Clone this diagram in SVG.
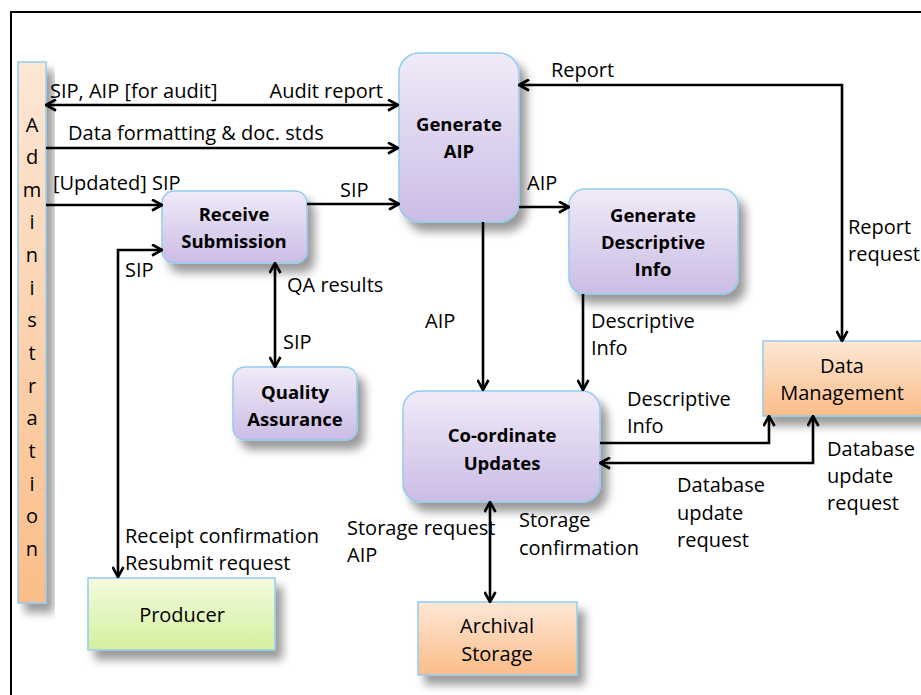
<svg xmlns="http://www.w3.org/2000/svg" width="921" height="695" viewBox="0 0 921 695">
<defs>
<linearGradient id="gPurple" x1="0" y1="0" x2="0" y2="1">
<stop offset="0" stop-color="#F0EBF8"/><stop offset="1" stop-color="#CBBCE5"/>
</linearGradient>
<linearGradient id="gOrange" x1="0" y1="0" x2="0" y2="1">
<stop offset="0" stop-color="#FDE7D6"/><stop offset="1" stop-color="#FBBD88"/>
</linearGradient>
<linearGradient id="gGreen" x1="0" y1="0" x2="0" y2="1">
<stop offset="0" stop-color="#F3FBDF"/><stop offset="1" stop-color="#D3F09E"/>
</linearGradient>
<filter id="shadow" x="-20%" y="-20%" width="150%" height="160%">
<feGaussianBlur in="SourceAlpha" stdDeviation="5"/>
<feOffset dx="7" dy="9" result="o"/>
<feComponentTransfer><feFuncA type="linear" slope="0.4"/></feComponentTransfer>
<feMerge><feMergeNode/><feMergeNode in="SourceGraphic"/></feMerge>
</filter>
<marker id="arr" viewBox="0 0 13 13" refX="12" refY="6.5" markerWidth="13" markerHeight="13" markerUnits="userSpaceOnUse" orient="auto-start-reverse">
<path d="M2,1 L12,6.5 L2,12" fill="none" stroke="#000" stroke-width="2.6"/>
</marker>
</defs>
<style>
.lbl{font-family:"Open Sans","Noto Sans",sans-serif;font-size:20px;fill:#000}
.b{font-weight:bold;font-size:18.5px}
.mid{text-anchor:middle}
.conn{stroke:#000;stroke-width:2.6;fill:none}
.np{fill:url(#gPurple);stroke:#92CCF0;stroke-width:1.5}
.no{fill:url(#gOrange);stroke:#92CCF0;stroke-width:1.5}
.ng{fill:url(#gGreen);stroke:#92CCF0;stroke-width:1.5}
</style>
<rect x="11" y="12" width="920" height="700" fill="#fff" stroke="#000" stroke-width="2"/>

<g id="administration" filter="url(#shadow)">
<rect x="18" y="62" width="28" height="541" class="no"/>
</g>
<g id="administration-text" class="lbl mid">
<text x="32" y="132">A</text><text x="32" y="164">d</text><text x="32" y="197">m</text><text x="32" y="229">i</text>
<text x="32" y="262">n</text><text x="32" y="295">i</text><text x="32" y="327">s</text><text x="32" y="360">t</text>
<text x="32" y="393">r</text><text x="32" y="425">a</text><text x="32" y="458">t</text><text x="32" y="491">i</text>
<text x="32" y="523">o</text><text x="32" y="556">n</text>
</g>

<g id="generate-aip">
<rect x="399" y="53" width="120" height="169" rx="20" class="np" filter="url(#shadow)"/>
<text x="459" y="131" class="lbl b mid">Generate</text>
<text x="459" y="158" class="lbl b mid">AIP</text>
</g>
<g id="generate-descriptive-info">
<rect x="569" y="189" width="169" height="105" rx="16" class="np" filter="url(#shadow)"/>
<text x="653" y="222" class="lbl b mid">Generate</text>
<text x="653" y="249" class="lbl b mid">Descriptive</text>
<text x="653" y="276" class="lbl b mid">Info</text>
</g>
<g id="receive-submission">
<rect x="162" y="191" width="145" height="72" rx="12" class="np" filter="url(#shadow)"/>
<text x="234" y="221" class="lbl b mid">Receive</text>
<text x="234" y="248" class="lbl b mid">Submission</text>
</g>
<g id="quality-assurance">
<rect x="233" y="367" width="124" height="73" rx="12" class="np" filter="url(#shadow)"/>
<text x="295" y="399" class="lbl b mid">Quality</text>
<text x="295" y="426" class="lbl b mid">Assurance</text>
</g>
<g id="coordinate-updates">
<rect x="403" y="391" width="197" height="111" rx="18" class="np" filter="url(#shadow)"/>
<text x="502" y="442" class="lbl b mid">Co-ordinate</text>
<text x="502" y="470" class="lbl b mid">Updates</text>
</g>
<g id="data-management">
<rect x="763" y="341" width="165" height="75" class="no" filter="url(#shadow)"/>
<text x="842" y="373" class="lbl mid">Data</text>
<text x="842" y="400" class="lbl mid">Management</text>
</g>
<g id="archival-storage">
<rect x="418" y="602" width="159" height="73" class="no" filter="url(#shadow)"/>
<text x="497" y="633" class="lbl mid">Archival</text>
<text x="497" y="661" class="lbl mid">Storage</text>
</g>
<g id="producer">
<rect x="88" y="578" width="187" height="72" class="ng" filter="url(#shadow)"/>
<text x="182" y="622" class="lbl mid">Producer</text>
</g>

<g id="connectors" class="conn">
<path d="M46,105 H398" marker-start="url(#arr)" marker-end="url(#arr)"/>
<path d="M46,148 H398" marker-end="url(#arr)"/>
<path d="M46,205 H162" marker-end="url(#arr)"/>
<path d="M307,204 H399" marker-end="url(#arr)"/>
<path d="M162,250 H118 V577" marker-start="url(#arr)" marker-end="url(#arr)"/>
<path d="M275,263 V367" marker-start="url(#arr)" marker-end="url(#arr)"/>
<path d="M519,207 H569" marker-end="url(#arr)"/>
<path d="M483,222 V390" marker-end="url(#arr)"/>
<path d="M583,294 V390" marker-end="url(#arr)"/>
<path d="M519,85 H842 V341" marker-start="url(#arr)" marker-end="url(#arr)"/>
<path d="M600,443 H769 V416" marker-end="url(#arr)"/>
<path d="M600,463 H813 V416" marker-start="url(#arr)" marker-end="url(#arr)"/>
<path d="M490,502 V602" marker-start="url(#arr)" marker-end="url(#arr)"/>
</g>

<g id="labels" class="lbl">
<text x="50" y="98">SIP, AIP [for audit]</text>
<text x="383" y="98" text-anchor="end">Audit report</text>
<text x="68" y="140">Data formatting &amp; doc. stds</text>
<text x="53" y="190">[Updated] SIP</text>
<text x="340" y="197">SIP</text>
<text x="125" y="277">SIP</text>
<text x="287" y="292">QA results</text>
<text x="283" y="349">SIP</text>
<text x="125" y="543">Receipt confirmation</text>
<text x="125" y="570">Resubmit request</text>
<text x="551" y="77">Report</text>
<text x="527" y="190">AIP</text>
<text x="848" y="234">Report</text>
<text x="848" y="261">request</text>
<text x="425" y="328">AIP</text>
<text x="591" y="328">Descriptive</text>
<text x="591" y="355">Info</text>
<text x="627" y="406">Descriptive</text>
<text x="627" y="433">Info</text>
<text x="827" y="456">Database</text>
<text x="827" y="483">update</text>
<text x="827" y="510">request</text>
<text x="677" y="492">Database</text>
<text x="677" y="520">update</text>
<text x="677" y="547">request</text>
<text x="347" y="535">Storage request</text>
<text x="347" y="562">AIP</text>
<text x="519" y="527">Storage</text>
<text x="519" y="555">confirmation</text>
</g>
</svg>
